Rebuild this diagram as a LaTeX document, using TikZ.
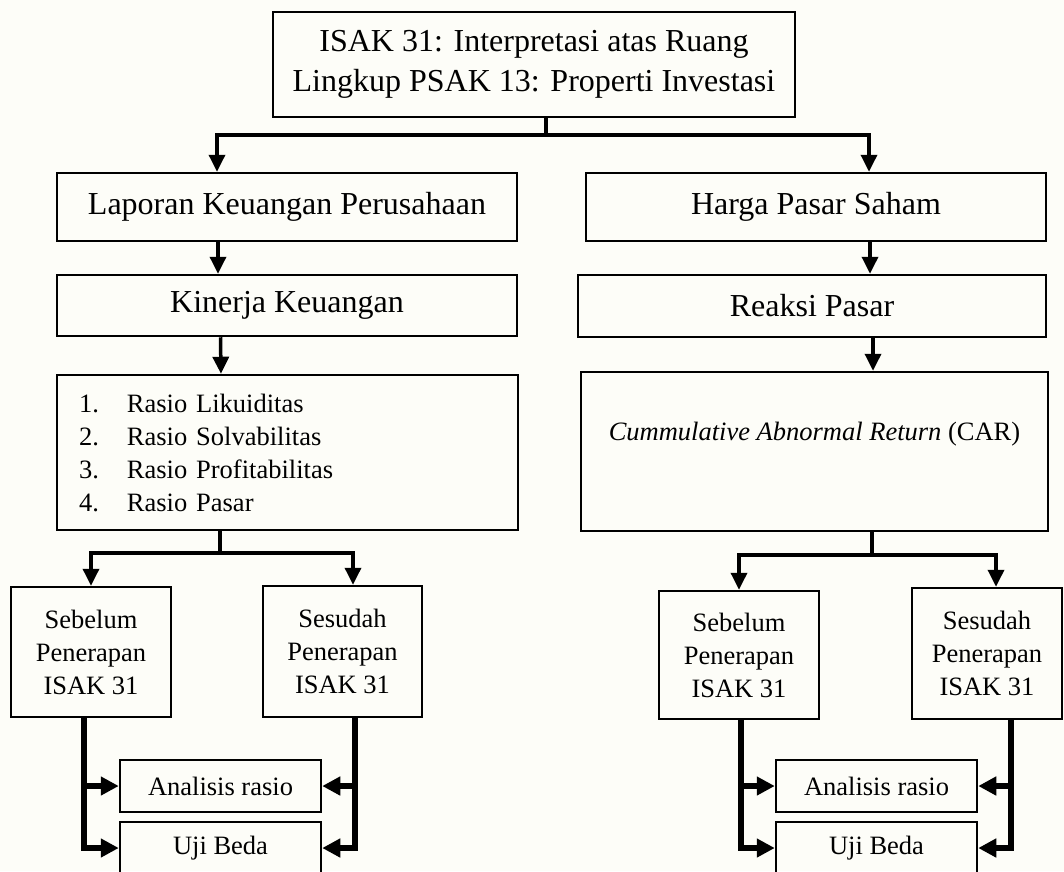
\documentclass[tikz,border=0pt]{standalone}
\usepackage{fontspec}
\setmainfont{Liberation Serif}
\usetikzlibrary{arrows.meta,calc}
\definecolor{bgcol}{RGB}{253,253,248}
\newcommand{\bigtxt}{\fontsize{32}{40}\selectfont}
\newcommand{\smalltxt}{\fontsize{26.5}{33}\selectfont}
\begin{document}
\begin{tikzpicture}[x=1pt,y=-1pt,
  box/.style={draw, line width=2.5pt, inner sep=0pt, align=center, font=\bigtxt},
  sbox/.style={box, font=\smalltxt},
  conn/.style={line width=3.5pt},
  arr/.style={conn, -{Triangle[length=17pt,width=16pt]}},
  thk/.style={line width=6pt},
  tarr/.style={thk, -{Triangle[length=18pt,width=18pt]}}]
\useasboundingbox (0,0) rectangle (1064,871);
\clip (0,0) rectangle (1064,871);
\fill[bgcol] (0,0) rectangle (1064,871);

% nodes
\node[box, minimum width=522pt, minimum height=105pt] (top) at (534,64.5)
  {ISAK 31: Interpretasi atas Ruang\\Lingkup PSAK 13: Properti Investasi};
\node[box, minimum width=460pt, minimum height=68pt] (lap) at (287,207) {Laporan Keuangan Perusahaan};
\node[box, minimum width=460pt, minimum height=68pt] (harga) at (816,207) {Harga Pasar Saham};
\node[box, minimum width=460pt, minimum height=61pt] (kin) at (287,305.5) {Kinerja Keuangan};
\node[box, minimum width=468pt, minimum height=62pt] (reak) at (812,306) {Reaksi Pasar};
\node[sbox, minimum width=461pt, minimum height=155pt, inner xsep=22pt, text width=417pt, align=left] (list) at (287.5,452.5)
  {\makebox[48pt][l]{1.}Rasio Likuiditas\\
   \makebox[48pt][l]{2.}Rasio Solvabilitas\\
   \makebox[48pt][l]{3.}Rasio Profitabilitas\\
   \makebox[48pt][l]{4.}Rasio Pasar};
\node[sbox, minimum width=467pt, minimum height=159pt, text height=20pt, text depth=42pt] (car) at (814.5,451.5)
  {\textit{Cummulative Abnormal Return} (CAR)};

\node[sbox, minimum width=160pt, minimum height=130pt] (sebL) at (91,652) {Sebelum\\Penerapan\\ISAK 31};
\node[sbox, minimum width=159pt, minimum height=131pt] (sesL) at (342.5,651.5) {Sesudah\\Penerapan\\ISAK 31};
\node[sbox, minimum width=201pt, minimum height=52pt] (anL) at (220.5,786) {Analisis rasio};
\node[sbox, minimum width=201pt, minimum height=52pt] (ujiL) at (220.5,848) {Uji Beda};

\node[sbox, minimum width=160pt, minimum height=128pt] (sebR) at (739,655) {Sebelum\\Penerapan\\ISAK 31};
\node[sbox, minimum width=150pt, minimum height=131pt] (sesR) at (987,653.5) {Sesudah\\Penerapan\\ISAK 31};
\node[sbox, minimum width=201pt, minimum height=52pt] (anR) at (876.5,786) {Analisis rasio};
\node[sbox, minimum width=201pt, minimum height=52pt] (ujiR) at (876.5,848) {Uji Beda};

% top branch
\coordinate (t1) at (546,135);
\draw[conn] ([xshift=12pt]top.south) -- (t1);
\draw[arr] (t1) -| ([xshift=-70pt]lap.north);
\draw[arr] (t1) -| ([xshift=53pt]harga.north);

% straight arrows
\draw[arr] ([xshift=-69pt]lap.south) -- ([xshift=-69pt]kin.north);
\coordinate (h1) at ([xshift=54pt]harga.south);
\draw[arr] (h1) -- (h1 |- reak.north);
\draw[arr] ([xshift=-66.5pt]kin.south) -- ([xshift=-66.5pt]list.north);
\coordinate (r1) at ([xshift=61pt]reak.south);
\draw[arr] (r1) -- (r1 |- car.north);

% list branch
\coordinate (l0) at ([xshift=-67.5pt]list.south);
\coordinate (l1) at (220,553);
\draw[conn] (l0) -- (l1);
\draw[arr] (l1) -| (sebL.north);
\draw[arr] (l1) -| ([xshift=10.5pt]sesL.north);

% car branch
\coordinate (c0) at ([xshift=57.5pt]car.south);
\coordinate (c1) at (872,555);
\draw[conn] (c0) -- (c1);
\draw[arr] (c1) -| (sebR.north);
\draw[arr] (c1) -| ([xshift=9pt]sesR.north);

% bottom left
\coordinate (bl1) at ([xshift=-7pt]sebL.south);
\coordinate (bl2) at ([xshift=12.5pt]sesL.south);
\draw[tarr] (bl1) |- (ujiL.west);
\draw[tarr] (bl1 |- anL.west) -- (anL.west);
\draw[tarr] (bl2) |- (ujiL.east);
\draw[tarr] (bl2 |- anL.east) -- (anL.east);

% bottom right
\coordinate (br1) at ([xshift=2pt]sebR.south);
\coordinate (br2) at ([xshift=24pt]sesR.south);
\draw[tarr] (br1) |- (ujiR.west);
\draw[tarr] (br1 |- anR.west) -- (anR.west);
\draw[tarr] (br2) |- (ujiR.east);
\draw[tarr] (br2 |- anR.east) -- (anR.east);
\end{tikzpicture}
\end{document}
